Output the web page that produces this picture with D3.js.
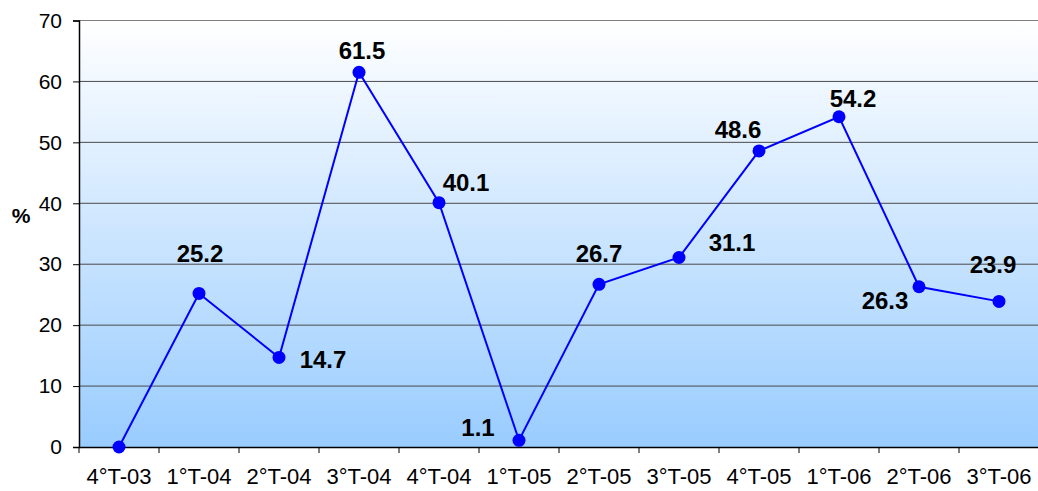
<!DOCTYPE html>
<html><head><meta charset="utf-8">
<script src="https://cdn.jsdelivr.net/npm/d3@7"></script>
<style>body{margin:0;background:#fff}svg{display:block;font-family:Arial,"Liberation Sans",sans-serif}</style>
</head><body><svg id="c" width="1038" height="491"></svg>
<script>
const categories = ["4°T-03","1°T-04","2°T-04","3°T-04","4°T-04","1°T-05","2°T-05","3°T-05","4°T-05","1°T-06","2°T-06","3°T-06"];
const values = [0,25.2,14.7,61.5,40.1,1.1,26.7,31.1,48.6,54.2,26.3,23.9];
const labels = [null,"25.2","14.7","61.5","40.1","1.1","26.7","31.1","48.6","54.2","26.3","23.9"];
const yTicks = [0,10,20,30,40,50,60,70];
// label offsets (text centre x, baseline y) relative to the point (layout only)
const labelOffsets = [[0,0],[1,-31],[44,11],[3,-13],[27,-12],[-41,-4],[0,-22],[53,-7],[-21,-13],[14,-10],[-34,22],[-6,-28]];

const svg = d3.select("#c");
const FONT = "Arial,'Liberation Sans',sans-serif";
const m = {l:79, t:20.5, r:1039, b:447};
const x = d3.scaleBand().domain(categories).range([m.l, m.r]);
const y = d3.scaleLinear().domain([0,70]).range([m.b, m.t]);

const defs = svg.append("defs");
const g = defs.append("linearGradient").attr("id","bg").attr("x1",0).attr("y1",0).attr("x2",0).attr("y2",1);
g.append("stop").attr("offset","0%").attr("stop-color","#ffffff");
g.append("stop").attr("offset","100%").attr("stop-color","#99ccff");
svg.append("rect").attr("x",m.l).attr("y",m.t).attr("width",m.r-m.l).attr("height",m.b-m.t).attr("fill","url(#bg)");

// gridlines
svg.append("g").selectAll("line").data(yTicks.filter(d=>d>0)).join("line")
  .attr("x1",m.l).attr("x2",m.r).attr("y1",d=>y(d)).attr("y2",d=>y(d))
  .attr("stroke",d=>d===70?"#808080":"#4a4a4a").attr("stroke-width",1);

// y axis
const ya = svg.append("g").attr("transform",`translate(${m.l},0)`)
  .call(d3.axisLeft(y).tickValues(yTicks).tickSize(6).tickPadding(11).tickFormat(d3.format("d")));
ya.select(".domain").attr("stroke","#000").attr("stroke-width",1.5);
ya.selectAll(".tick line").attr("stroke","#000");
ya.selectAll("text").attr("font-size",21).attr("font-family",FONT).attr("fill","#000");

// x axis
const xa = svg.append("g").attr("transform",`translate(0,${m.b})`)
  .call(d3.axisBottom(x).tickSize(0).tickPadding(21));
xa.select(".domain").attr("stroke","#000").attr("stroke-width",1.5);
xa.selectAll("text").attr("font-size",22).attr("font-family",FONT).attr("fill","#000");
svg.append("g").selectAll("line").data(categories).join("line")
  .attr("x1",d=>x(d)).attr("x2",d=>x(d)).attr("y1",m.b).attr("y2",m.b+6).attr("stroke","#000");

// % label
svg.append("text").attr("x",21).attr("y",223).attr("text-anchor","middle")
  .attr("font-size",21).attr("font-weight","bold").attr("font-family",FONT).text("%");

// line
const cx = d => x(d)+x.bandwidth()/2;
svg.append("path").datum(values.map((v,i)=>[categories[i],v]))
  .attr("fill","none").attr("stroke","#0000ff").attr("stroke-width",2)
  .attr("d",d3.line().x(d=>cx(d[0])).y(d=>y(d[1])));
svg.append("g").selectAll("circle").data(values).join("circle")
  .attr("cx",(d,i)=>cx(categories[i])).attr("cy",d=>y(d)).attr("r",6.5).attr("fill","#0000ff");

// data labels
const idx = d3.range(values.length).filter(i=>labels[i]!==null);
svg.append("g").selectAll("text").data(idx).join("text")
  .attr("x",i=>cx(categories[i])+labelOffsets[i][0])
  .attr("y",i=>y(values[i])+labelOffsets[i][1])
  .attr("text-anchor","middle").attr("font-size",24).attr("font-weight","bold")
  .attr("font-family",FONT).attr("fill","#000")
  .text(i=>labels[i]);
</script></body></html>
